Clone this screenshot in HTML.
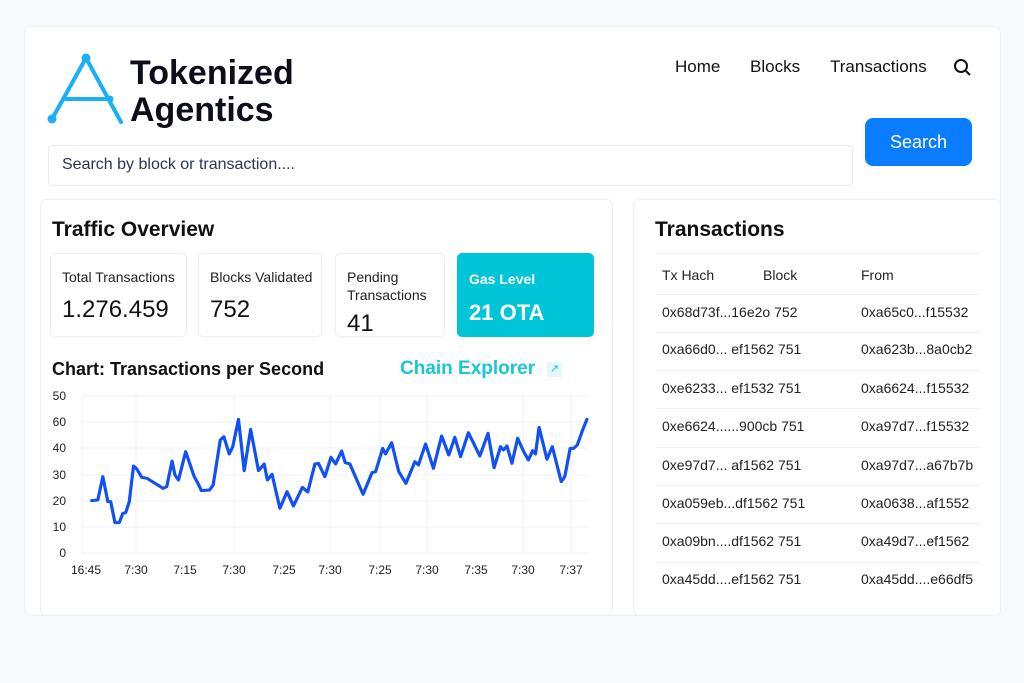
<!DOCTYPE html>
<html><head><meta charset="utf-8"><style>
*{margin:0;padding:0;box-sizing:border-box}
body{width:1024px;height:683px;background:#f8f9fd;font-family:"Liberation Sans",sans-serif;color:#111;position:relative;overflow:hidden}
.a{position:absolute;white-space:nowrap}
.card{position:absolute;background:#fff;border:1px solid #eceff5;border-radius:8px}
.box{position:absolute;top:253px;height:84px;border:1px solid #eceff4;border-radius:5px;background:#fff}
.lbl{position:absolute;left:11px;top:14px;font-size:14px;color:#222;line-height:18px}
.val{position:absolute;left:11px;font-size:24px;color:#111}
.row{position:absolute;left:656px;width:324px;height:1px;background:#eef1f6}
.t{position:absolute;font-size:14px;color:#222;white-space:nowrap}
</style></head><body>
<div class="card" style="left:24px;top:26px;width:977px;height:590px"></div>
<svg class="a" style="left:0;top:0" width="200" height="140">
<g stroke="#1ab0f5" stroke-width="4" fill="none" stroke-linecap="round">
<line x1="86" y1="58" x2="52" y2="119"/><line x1="86" y1="58" x2="121" y2="122"/><line x1="65" y1="99" x2="110" y2="99"/></g>
<circle cx="86" cy="58" r="4.5" fill="#1ab0f5"/><circle cx="52" cy="119" r="4.5" fill="#1ab0f5"/><circle cx="110" cy="99" r="3.5" fill="#1ab0f5"/>
</svg>
<div class="a" style="left:130px;top:53px;font-size:34px;font-weight:600;color:#0c0f1a;line-height:40px">Tokenized</div>
<div class="a" style="left:130px;top:90px;font-size:34px;font-weight:600;color:#0c0f1a;line-height:40px">Agentics</div>
<div class="a" style="left:675px;top:57px;font-size:17px">Home</div>
<div class="a" style="left:750px;top:57px;font-size:17px">Blocks</div>
<div class="a" style="left:830px;top:57px;font-size:17px">Transactions</div>
<svg class="a" style="left:953px;top:58px" width="20" height="20"><circle cx="8" cy="8" r="6" stroke="#111" stroke-width="2" fill="none"/><line x1="12.5" y1="12.5" x2="17" y2="17" stroke="#111" stroke-width="2"/></svg>
<div class="a" style="left:48px;top:145px;width:805px;height:41px;border:1px solid #e8ebf2;border-radius:4px;background:#fff"></div>
<div class="a" style="left:62px;top:156px;font-size:16px;color:#2b3550">Search by block or transaction....</div>
<div class="a" style="left:865px;top:118px;width:107px;height:48px;background:#0a7cff;border-radius:8px;color:#fff;font-size:18px;text-align:center;line-height:48px">Search</div>
<div class="card" style="left:40px;top:199px;width:573px;height:417px;border-radius:6px"></div>
<div class="card" style="left:633px;top:199px;width:368px;height:417px;border-radius:6px"></div>
<div class="a" style="left:52px;top:218px;font-size:21px;font-weight:600">Traffic Overview</div>
<div class="box" style="left:50px;width:137px"><div class="lbl">Total Transactions</div><div class="val" style="top:42px">1.276.459</div></div>
<div class="box" style="left:198px;width:124px"><div class="lbl">Blocks Validated</div><div class="val" style="top:42px">752</div></div>
<div class="box" style="left:335px;width:110px"><div class="lbl">Pending<br>Transactions</div><div class="val" style="top:56px">41</div></div>
<div class="box" style="left:457px;width:137px;background:#00c4d8;border-color:#00c4d8"><div class="lbl" style="color:#fff;top:16px;font-weight:600">Gas Level</div><div class="val" style="top:46px;color:#fff;font-weight:600;font-size:22px">21 OTA</div></div>
<div class="a" style="left:52px;top:359px;font-size:18px;font-weight:600">Chart: Transactions per Second</div>
<div class="a" style="left:400px;top:358px;font-size:19px;color:#19c6d6;font-weight:600">Chain Explorer</div>
<div class="a" style="left:547px;top:362px;width:15px;height:15px;background:#e3f8f7;color:#19c6d6;font-size:11px;text-align:center;line-height:15px">↗</div>
<svg class="a" style="left:0;top:0" width="613" height="600">
<g stroke="#eef1f8" stroke-width="1">
<line x1="82" y1="396" x2="588" y2="396"/><line x1="82" y1="422" x2="588" y2="422"/><line x1="82" y1="448" x2="588" y2="448"/><line x1="82" y1="475" x2="588" y2="475"/><line x1="82" y1="501" x2="588" y2="501"/><line x1="82" y1="527" x2="588" y2="527"/><line x1="82" y1="553" x2="588" y2="553"/>
<line x1="82" y1="396" x2="82" y2="553"/><line x1="136" y1="396" x2="136" y2="553"/><line x1="234" y1="396" x2="234" y2="553"/><line x1="330" y1="396" x2="330" y2="553"/><line x1="380" y1="396" x2="380" y2="553"/><line x1="427" y1="396" x2="427" y2="553"/><line x1="523" y1="396" x2="523" y2="553"/><line x1="571" y1="396" x2="571" y2="553"/>
</g>
<g font-size="12" fill="#222" text-anchor="end">
<text x="66" y="400">50</text><text x="66" y="426">60</text><text x="66" y="452">40</text><text x="66" y="479">30</text><text x="66" y="505">20</text><text x="66" y="531">10</text><text x="66" y="557">0</text></g>
<g font-size="12" fill="#222" text-anchor="middle">
<text x="86" y="574">16:45</text><text x="136" y="574">7:30</text><text x="185" y="574">7:15</text><text x="234" y="574">7:30</text><text x="284" y="574">7:25</text><text x="330" y="574">7:30</text><text x="380" y="574">7:25</text><text x="427" y="574">7:30</text><text x="476" y="574">7:35</text><text x="523" y="574">7:30</text><text x="571" y="574">7:37</text></g>
<g transform="translate(40,380) scale(0.357,0.3333)">
<polyline fill="none" stroke="#1050f5" stroke-width="9" stroke-linejoin="round" stroke-linecap="round" points="145,362 162,360 176,290 190,365 198,365 210,428 222,428 232,400 240,398 250,365 262,258 270,265 285,292 300,295 345,325 355,320 370,243 378,285 388,300 408,215 432,290 440,305 452,332 475,330 485,315 505,180 515,170 530,222 540,200 556,118 572,272 590,148 612,272 628,252 637,300 650,283 672,385 692,335 710,378 735,322 750,336 770,252 780,250 798,290 815,232 828,252 845,213 855,248 868,252 905,343 930,278 940,275 960,205 968,222 985,188 1005,275 1025,310 1050,245 1060,255 1080,192 1102,265 1125,168 1145,225 1162,172 1178,230 1200,158 1232,228 1255,160 1272,263 1290,200 1298,210 1308,198 1322,250 1338,175 1355,215 1368,240 1380,212 1388,222 1398,142 1420,238 1435,200 1460,305 1470,290 1485,205 1495,205 1505,195 1520,150 1532,118"/>
</g></svg>
<div class="a" style="left:655px;top:218px;font-size:21px;font-weight:600">Transactions</div>
<div class="row" style="top:253px"></div>
<div class="t" style="left:662px;top:267px">Tx Hach</div><div class="t" style="left:763px;top:267px">Block</div><div class="t" style="left:861px;top:267px">From</div>
<div class="row" style="top:294px"></div>
<div class="t" style="left:662px;top:304px">0x68d73f...16e2o 752</div><div class="t" style="left:861px;top:304px">0xa65c0...f15532</div>
<div class="row" style="top:332px"></div>
<div class="t" style="left:662px;top:341px">0xa66d0... ef1562 751</div><div class="t" style="left:861px;top:341px">0xa623b...8a0cb2</div>
<div class="row" style="top:370px"></div>
<div class="t" style="left:662px;top:380px">0xe6233... ef1532 751</div><div class="t" style="left:861px;top:380px">0xa6624...f15532</div>
<div class="row" style="top:408px"></div>
<div class="t" style="left:662px;top:418px">0xe6624......900cb 751</div><div class="t" style="left:861px;top:418px">0xa97d7...f15532</div>
<div class="row" style="top:447px"></div>
<div class="t" style="left:662px;top:457px">0xe97d7... af1562 751</div><div class="t" style="left:861px;top:457px">0xa97d7...a67b7b</div>
<div class="row" style="top:485px"></div>
<div class="t" style="left:662px;top:495px">0xa059eb...df1562 751</div><div class="t" style="left:861px;top:495px">0xa0638...af1552</div>
<div class="row" style="top:523px"></div>
<div class="t" style="left:662px;top:533px">0xa09bn....df1562 751</div><div class="t" style="left:861px;top:533px">0xa49d7...ef1562</div>
<div class="row" style="top:562px"></div>
<div class="t" style="left:662px;top:571px">0xa45dd....ef1562 751</div><div class="t" style="left:861px;top:571px">0xa45dd....e66df5</div>
</body></html>
